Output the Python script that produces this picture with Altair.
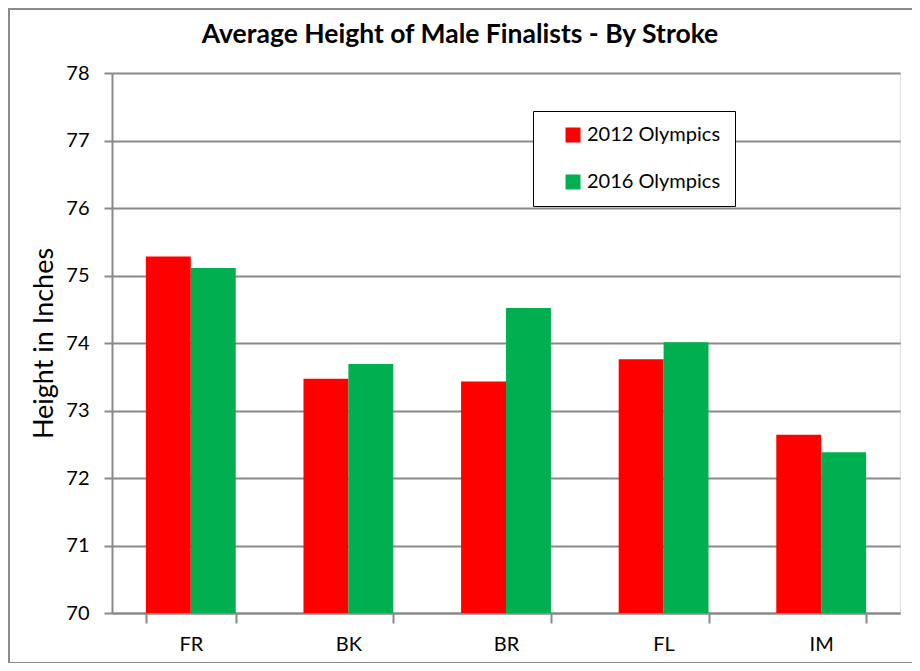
import altair as alt
import pandas as pd

strokes = ["FR", "BK", "BR", "FL", "IM"]
series = ["2012 Olympics", "2016 Olympics"]
h2012 = [75.28, 73.47, 73.43, 73.76, 72.64]
h2016 = [75.11, 73.69, 74.52, 74.01, 72.38]
colors = ["#FF0000", "#00B050"]
y_ticks = [70, 71, 72, 73, 74, 75, 76, 77, 78]

rows = []
for s, a, b in zip(strokes, h2012, h2016):
    rows.append({"stroke": s, "series": series[0], "height": a})
    rows.append({"stroke": s, "series": series[1], "height": b})
df = pd.DataFrame(rows)

FONT = "Lato"
GRID = "#898989"

bars = alt.Chart(df).mark_bar(strokeWidth=0).encode(
    x=alt.X("stroke:N", sort=strokes, title=None,
            scale=alt.Scale(paddingInner=0.43, paddingOuter=0.215),
            axis=alt.Axis(labelAngle=0, labelFontSize=20, labelFont=FONT, labelColor="black",
                          tickBand="extent", tickSize=10, tickColor=GRID, tickWidth=2,
                          domainColor=GRID, domainWidth=2, labelPadding=11)),
    xOffset=alt.XOffset("series:N", sort=series,
                        scale=alt.Scale(paddingInner=0, paddingOuter=0)),
    y=alt.Y("height:Q", title="Height in Inches",
            scale=alt.Scale(domain=[70, 78], zero=False, nice=False),
            axis=alt.Axis(values=y_ticks, labelFontSize=20, labelFont=FONT, labelColor="black",
                          tickSize=8, tickColor=GRID, tickWidth=2, domainColor=GRID, domainWidth=2,
                          gridColor=GRID, gridWidth=2, labelPadding=15,
                          titleFont=FONT, titleFontSize=27, titleFontWeight="normal",
                          titleColor="black", titlePadding=7)),
    y2=alt.datum(70),
    color=alt.Color("series:N", sort=series,
                    scale=alt.Scale(domain=series, range=colors),
                    legend=alt.Legend(title=None, orient="none", legendX=421, legendY=38,
                                      symbolType="square", symbolSize=225, symbolStrokeWidth=0,
                                      labelFontSize=20, labelFont=FONT, labelColor="black",
                                      rowPadding=27, padding=14, symbolOffset=16,
                                      strokeColor="black", fillColor="white")),
)

frame = alt.Chart(pd.DataFrame({"k": [0]})).mark_rect(
    fillOpacity=0, stroke="#8a8a8a", strokeWidth=2
).encode(
    x=alt.value(-103), x2=alt.value(801), y=alt.value(-64), y2=alt.value(590)
)

chart = alt.layer(frame, bars).properties(
    width=788, height=540,
    padding={"left": 104, "top": 65, "right": 12, "bottom": 50},
    autosize=alt.AutoSizeParams(type="none"),
    title=alt.TitleParams("Average Height of Male Finalists - By Stroke",
                          font=FONT, fontSize=26.5, fontWeight="bold", color="black",
                          anchor="middle", frame="group", dx=-46, offset=-40),
).configure_view(
    stroke="black", strokeWidth=2
).configure_legend(
    strokeWidth=2
).configure(background="white")

chart.save("out.html", embed_options={"renderer": "svg", "actions": False})
